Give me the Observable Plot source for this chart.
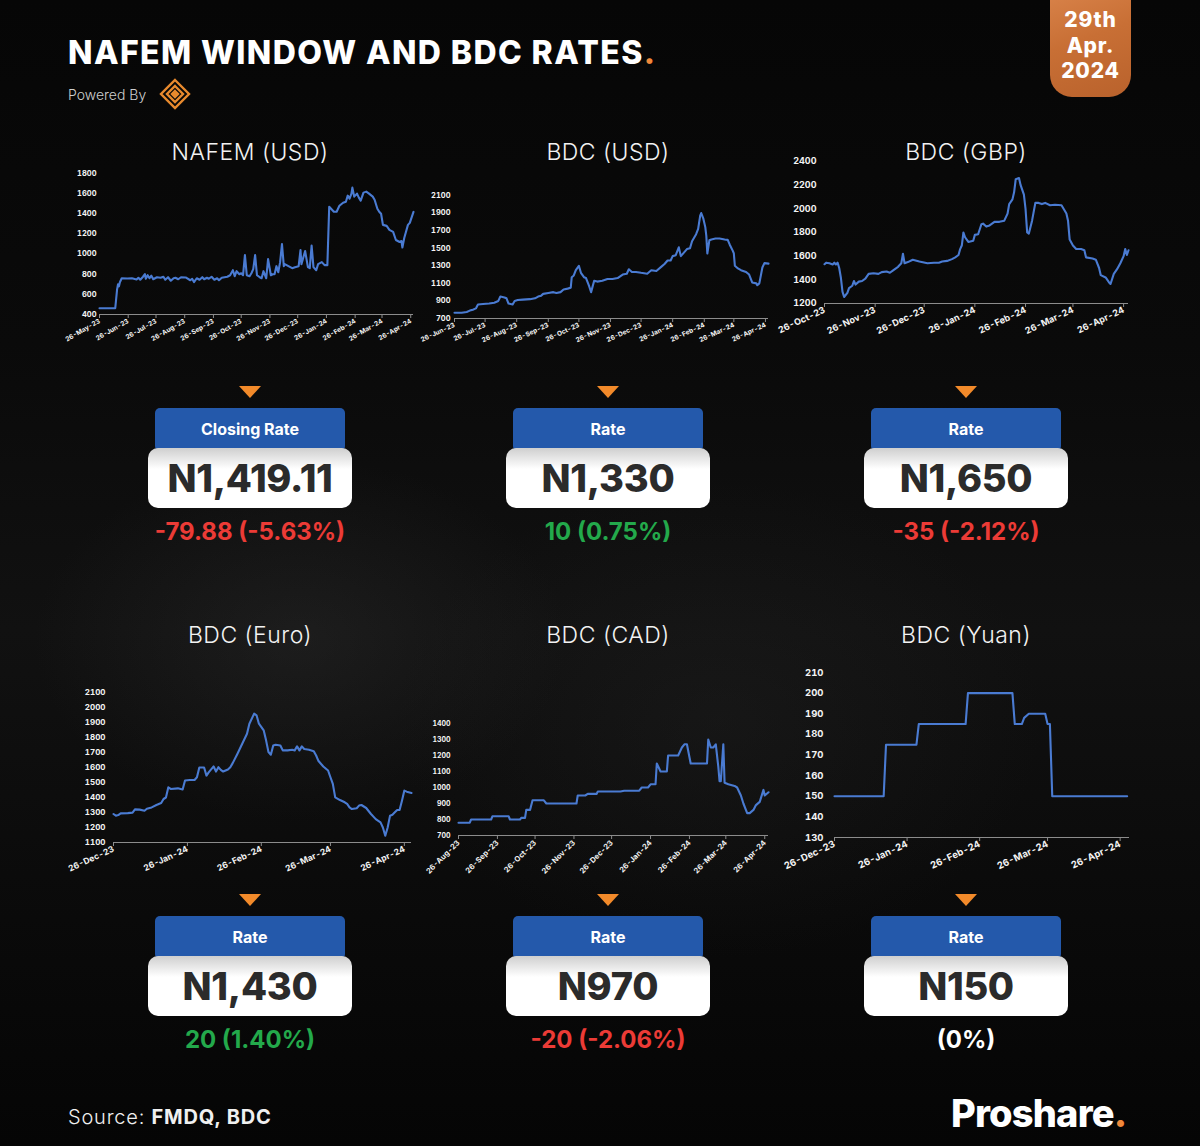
<!DOCTYPE html>
<html>
<head>
<meta charset="utf-8">
<script src="https://cdn.jsdelivr.net/npm/d3@7"></script>
<script src="https://cdn.jsdelivr.net/npm/@observablehq/plot@0.6"></script>
<style>
html,body{margin:0;padding:0;background:#060606;}
#page{position:relative;width:1200px;height:1146px;overflow:hidden;font-family:Inter,"Open Sans",sans-serif;
  background:
   radial-gradient(ellipse 380px 260px at 300px 640px, rgba(60,60,60,0.28), rgba(0,0,0,0) 70%),
   radial-gradient(ellipse 460px 340px at 720px 720px, rgba(45,45,45,0.25), rgba(0,0,0,0) 70%),
   linear-gradient(180deg,#060606 0%,#0a0a0a 30%,#111 55%,#0a0a0a 80%,#050505 100%);}
.abs{position:absolute;}
.title{position:absolute;color:#f2f2f2;font-weight:300;font-size:23px;white-space:nowrap;transform:translate(-50%,-50%);letter-spacing:0.5px;}
.tri{position:absolute;width:0;height:0;border-left:11px solid transparent;border-right:11px solid transparent;border-top:12px solid #f28a2a;transform:translateX(-50%);}
.blue{position:absolute;width:190px;height:42px;background:#2459ab;border-radius:5px 5px 4px 4px;transform:translateX(-50%);color:#fff;font-weight:700;font-size:16px;display:flex;align-items:center;justify-content:center;}
.white{position:absolute;width:204px;height:60px;border-radius:10px;transform:translateX(-50%);background:linear-gradient(180deg,#cfcfcf 0%,#ffffff 35%,#ffffff 100%);color:#2b2b2b;font-weight:800;font-size:38px;display:flex;align-items:center;justify-content:center;letter-spacing:-0.3px;}
.chg{position:absolute;font-weight:700;font-size:24px;white-space:nowrap;transform:translate(-50%,-50%);}
.badge{position:absolute;left:1050px;width:81px;text-align:center;color:#fff;font-weight:800;font-size:21px;line-height:24px;letter-spacing:0.8px;}
</style>
</head>
<body>
<div id="page"></div>
<script>
// ---------------- DATA ----------------
const nafemUsd = [["2023-05-26",462],["2023-06-12",462],["2023-06-14",650],["2023-06-15",700],["2023-06-16",680],["2023-06-17",720],["2023-06-19",760],["2023-06-25",758],["2023-06-30",760],["2023-07-05",748],["2023-07-07",765],["2023-07-09",745],["2023-07-12",775],["2023-07-14",800],["2023-07-15",755],["2023-07-17",790],["2023-07-19",760],["2023-07-21",785],["2023-07-23",750],["2023-07-27",770],["2023-07-31",765],["2023-08-03",775],["2023-08-05",745],["2023-08-08",770],["2023-08-11",735],["2023-08-14",760],["2023-08-16",765],["2023-08-19",750],["2023-08-22",770],["2023-08-27",768],["2023-09-01",740],["2023-09-03",755],["2023-09-05",722],["2023-09-08",760],["2023-09-11",745],["2023-09-14",770],["2023-09-16",750],["2023-09-19",765],["2023-09-21",755],["2023-09-24",775],["2023-09-27",745],["2023-09-30",760],["2023-10-02",740],["2023-10-05",765],["2023-10-08",770],["2023-10-11",775],["2023-10-14",790],["2023-10-17",840],["2023-10-19",780],["2023-10-21",830],["2023-10-24",800],["2023-10-26",810],["2023-10-28",790],["2023-10-30",990],["2023-11-01",790],["2023-11-04",780],["2023-11-06",810],["2023-11-08",850],["2023-11-10",990],["2023-11-12",790],["2023-11-15",770],["2023-11-17",760],["2023-11-19",830],["2023-11-22",760],["2023-11-24",950],["2023-11-27",790],["2023-11-29",800],["2023-12-01",800],["2023-12-03",880],["2023-12-05",820],["2023-12-07",920],["2023-12-09",1100],["2023-12-11",880],["2023-12-12",900],["2023-12-16",880],["2023-12-20",860],["2023-12-23",870],["2023-12-27",880],["2023-12-29",1040],["2023-12-30",900],["2024-01-03",1030],["2024-01-06",870],["2024-01-08",860],["2024-01-10",1085],["2024-01-12",870],["2024-01-15",840],["2024-01-17",900],["2024-01-21",920],["2024-01-24",890],["2024-01-27",890],["2024-01-29",1470],["2024-01-31",1450],["2024-02-03",1420],["2024-02-06",1420],["2024-02-09",1480],["2024-02-13",1510],["2024-02-16",1520],["2024-02-18",1580],["2024-02-20",1550],["2024-02-22",1600],["2024-02-23",1660],["2024-02-25",1570],["2024-02-28",1600],["2024-03-01",1560],["2024-03-03",1530],["2024-03-06",1610],["2024-03-09",1620],["2024-03-12",1600],["2024-03-16",1570],["2024-03-18",1540],["2024-03-21",1450],["2024-03-23",1420],["2024-03-25",1400],["2024-03-27",1290],["2024-03-31",1280],["2024-04-03",1240],["2024-04-07",1220],["2024-04-10",1140],["2024-04-14",1120],["2024-04-16",1130],["2024-04-17",1065],["2024-04-19",1160],["2024-04-23",1290],["2024-04-25",1310],["2024-04-29",1419]];

const bdcUsd = [["2023-06-26",765],["2023-07-03",765],["2023-07-08",775],["2023-07-11",790],["2023-07-14",800],["2023-07-17",815],["2023-07-19",860],["2023-07-24",865],["2023-07-30",870],["2023-08-04",880],["2023-08-08",900],["2023-08-10",950],["2023-08-14",940],["2023-08-16",930],["2023-08-18",870],["2023-08-22",860],["2023-08-24",900],["2023-08-27",910],["2023-09-01",915],["2023-09-08",920],["2023-09-13",930],["2023-09-16",950],["2023-09-19",960],["2023-09-21",980],["2023-09-26",990],["2023-10-01",1000],["2023-10-04",990],["2023-10-08",1000],["2023-10-11",1030],["2023-10-15",1040],["2023-10-18",1050],["2023-10-19",1170],["2023-10-21",1190],["2023-10-23",1250],["2023-10-26",1300],["2023-10-28",1220],["2023-10-31",1170],["2023-11-02",1160],["2023-11-05",1070],["2023-11-07",1000],["2023-11-10",1130],["2023-11-13",1120],["2023-11-18",1130],["2023-11-23",1150],["2023-11-28",1150],["2023-12-03",1160],["2023-12-08",1200],["2023-12-12",1210],["2023-12-14",1260],["2023-12-17",1230],["2023-12-21",1230],["2023-12-26",1220],["2024-01-01",1210],["2024-01-05",1250],["2024-01-10",1240],["2024-01-15",1290],["2024-01-18",1320],["2024-01-21",1360],["2024-01-24",1360],["2024-01-26",1410],["2024-01-29",1420],["2024-02-01",1510],["2024-02-03",1410],["2024-02-06",1450],["2024-02-09",1490],["2024-02-12",1500],["2024-02-14",1580],["2024-02-18",1660],["2024-02-20",1720],["2024-02-22",1870],["2024-02-23",1900],["2024-02-25",1840],["2024-02-27",1740],["2024-02-28",1640],["2024-02-29",1440],["2024-03-02",1590],["2024-03-04",1600],["2024-03-08",1610],["2024-03-12",1610],["2024-03-17",1600],["2024-03-20",1595],["2024-03-22",1540],["2024-03-25",1470],["2024-03-26",1440],["2024-03-27",1300],["2024-03-30",1270],["2024-04-02",1250],["2024-04-07",1230],["2024-04-10",1200],["2024-04-13",1110],["2024-04-17",1100],["2024-04-18",1080],["2024-04-20",1100],["2024-04-23",1280],["2024-04-25",1330],["2024-04-29",1325]];

const bdcGbp = [["2023-10-26",1532],["2023-10-27",1545],["2023-10-29",1540],["2023-10-31",1530],["2023-11-01",1545],["2023-11-02",1530],["2023-11-03",1545],["2023-11-04",1500],["2023-11-05",1420],["2023-11-06",1300],["2023-11-07",1255],["2023-11-09",1290],["2023-11-10",1330],["2023-11-12",1350],["2023-11-13",1390],["2023-11-14",1360],["2023-11-16",1385],["2023-11-18",1390],["2023-11-20",1410],["2023-11-22",1450],["2023-11-25",1455],["2023-11-28",1450],["2023-11-30",1465],["2023-12-03",1470],["2023-12-05",1460],["2023-12-07",1480],["2023-12-10",1510],["2023-12-12",1540],["2023-12-13",1620],["2023-12-14",1540],["2023-12-16",1550],["2023-12-19",1570],["2023-12-23",1555],["2023-12-28",1540],["2024-01-01",1545],["2024-01-04",1545],["2024-01-06",1555],["2024-01-09",1560],["2024-01-12",1575],["2024-01-14",1590],["2024-01-16",1610],["2024-01-17",1660],["2024-01-18",1690],["2024-01-19",1800],["2024-01-20",1760],["2024-01-22",1720],["2024-01-25",1730],["2024-01-26",1780],["2024-01-28",1785],["2024-01-30",1870],["2024-01-31",1875],["2024-02-02",1850],["2024-02-04",1860],["2024-02-07",1890],["2024-02-10",1890],["2024-02-13",1900],["2024-02-15",1960],["2024-02-16",2040],["2024-02-18",2080],["2024-02-19",2140],["2024-02-20",2250],["2024-02-22",2260],["2024-02-23",2200],["2024-02-25",2120],["2024-02-26",2000],["2024-02-27",1800],["2024-02-28",1790],["2024-03-01",1900],["2024-03-03",2050],["2024-03-05",2050],["2024-03-07",2040],["2024-03-09",2050],["2024-03-12",2030],["2024-03-15",2035],["2024-03-19",2030],["2024-03-22",1960],["2024-03-23",1900],["2024-03-24",1740],["2024-03-26",1690],["2024-03-28",1660],["2024-03-31",1660],["2024-04-02",1650],["2024-04-03",1590],["2024-04-07",1580],["2024-04-09",1570],["2024-04-11",1500],["2024-04-12",1440],["2024-04-15",1420],["2024-04-17",1380],["2024-04-18",1365],["2024-04-20",1450],["2024-04-22",1490],["2024-04-24",1540],["2024-04-26",1600],["2024-04-27",1660],["2024-04-28",1610],["2024-04-29",1650]];

const bdcEuro = [["2023-12-26",1290],["2023-12-27",1279],["2023-12-28",1283],["2023-12-29",1294],["2024-01-01",1296],["2024-01-03",1299],["2024-01-04",1321],["2024-01-06",1319],["2024-01-08",1312],["2024-01-09",1325],["2024-01-11",1334],["2024-01-13",1350],["2024-01-15",1363],["2024-01-16",1390],["2024-01-17",1400],["2024-01-18",1468],["2024-01-19",1457],["2024-01-22",1461],["2024-01-24",1453],["2024-01-25",1513],["2024-01-27",1517],["2024-01-29",1517],["2024-01-30",1535],["2024-01-31",1600],["2024-02-02",1600],["2024-02-03",1546],["2024-02-04",1569],["2024-02-06",1607],["2024-02-07",1573],["2024-02-08",1602],["2024-02-09",1584],["2024-02-10",1573],["2024-02-12",1587],["2024-02-13",1602],["2024-02-14",1629],["2024-02-16",1692],["2024-02-18",1758],["2024-02-20",1825],["2024-02-21",1892],["2024-02-23",1959],["2024-02-24",1948],["2024-02-25",1892],["2024-02-27",1848],["2024-02-28",1781],["2024-02-29",1703],["2024-03-01",1685],["2024-03-02",1747],["2024-03-03",1752],["2024-03-05",1747],["2024-03-06",1714],["2024-03-08",1714],["2024-03-10",1718],["2024-03-11",1714],["2024-03-12",1741],["2024-03-13",1714],["2024-03-14",1741],["2024-03-15",1723],["2024-03-17",1718],["2024-03-19",1709],["2024-03-20",1680],["2024-03-21",1643],["2024-03-23",1607],["2024-03-25",1580],["2024-03-26",1535],["2024-03-27",1491],["2024-03-28",1401],["2024-03-30",1383],["2024-04-01",1368],["2024-04-02",1357],["2024-04-03",1334],["2024-04-04",1323],["2024-04-06",1328],["2024-04-07",1346],["2024-04-08",1350],["2024-04-10",1330],["2024-04-12",1290],["2024-04-14",1256],["2024-04-16",1234],["2024-04-17",1200],["2024-04-18",1145],["2024-04-19",1200],["2024-04-20",1279],["2024-04-21",1285],["2024-04-22",1301],["2024-04-23",1317],["2024-04-24",1317],["2024-04-25",1379],["2024-04-26",1446],["2024-04-27",1439],["2024-04-29",1430]];

const bdcCad = [["2023-08-26",780],["2023-09-04",780],["2023-09-05",800],["2023-09-21",800],["2023-09-22",820],["2023-10-05",820],["2023-10-06",800],["2023-10-14",800],["2023-10-15",810],["2023-10-18",810],["2023-10-19",860],["2023-10-22",860],["2023-10-24",920],["2023-11-02",920],["2023-11-04",900],["2023-11-28",900],["2023-11-29",950],["2023-12-05",950],["2023-12-07",960],["2023-12-14",960],["2023-12-15",975],["2024-01-02",975],["2024-01-05",980],["2024-01-17",980],["2024-01-19",1000],["2024-01-24",1000],["2024-01-26",1020],["2024-01-30",1020],["2024-01-31",1150],["2024-02-03",1100],["2024-02-08",1100],["2024-02-09",1200],["2024-02-17",1200],["2024-02-20",1250],["2024-02-22",1270],["2024-02-24",1270],["2024-02-27",1150],["2024-03-11",1150],["2024-03-12",1300],["2024-03-14",1250],["2024-03-16",1250],["2024-03-18",1270],["2024-03-20",1130],["2024-03-21",1040],["2024-03-22",1040],["2024-03-24",1270],["2024-03-25",1030],["2024-03-28",1020],["2024-04-02",1010],["2024-04-04",1000],["2024-04-07",950],["2024-04-09",900],["2024-04-12",840],["2024-04-14",840],["2024-04-17",860],["2024-04-19",890],["2024-04-22",910],["2024-04-25",985],["2024-04-26",950],["2024-04-29",970]];

const bdcYuan = [["2023-12-26",150],["2024-01-16",150],["2024-01-17",175],["2024-01-30",175],["2024-01-31",185],["2024-02-20",185],["2024-02-21",200],["2024-03-11",200],["2024-03-12",185],["2024-03-15",185],["2024-03-16",188],["2024-03-18",190],["2024-03-25",190],["2024-03-26",185],["2024-03-27",185],["2024-03-28",150],["2024-04-29",150]];

// tick labels (26th of each month) and value ticks
const nafemXTicks = ["2023-05-26","2023-06-26","2023-07-26","2023-08-26","2023-09-26","2023-10-26","2023-11-26","2023-12-26","2024-01-26","2024-02-26","2024-03-26","2024-04-26"];
const usdXTicks = ["2023-06-26","2023-07-26","2023-08-26","2023-09-26","2023-10-26","2023-11-26","2023-12-26","2024-01-26","2024-02-26","2024-03-26","2024-04-26"];
const gbpXTicks = ["2023-10-26","2023-11-26","2023-12-26","2024-01-26","2024-02-26","2024-03-26","2024-04-26"];
const euroXTicks = ["2023-12-26","2024-01-26","2024-02-26","2024-03-26","2024-04-26"];
const cadXTicks = ["2023-08-26","2023-09-26","2023-10-26","2023-11-26","2023-12-26","2024-01-26","2024-02-26","2024-03-26","2024-04-26"];
const yuanXTicks = ["2023-12-26","2024-01-26","2024-02-26","2024-03-26","2024-04-26"];

const nafemYTicks = [400,600,800,1000,1200,1400,1600,1800];
const usdYTicks = [700,900,1100,1300,1500,1700,1900,2100];
const gbpYTicks = [1200,1400,1600,1800,2000,2200,2400];
const euroYTicks = [1100,1200,1300,1400,1500,1600,1700,1800,1900,2000,2100];
const cadYTicks = [700,800,900,1000,1100,1200,1300,1400];
const yuanYTicks = [130,140,150,160,170,180,190,200,210];

const xDomains = [["2023-05-26","2024-04-29"],["2023-06-26","2024-04-29"],["2023-10-26","2024-04-29"],["2023-12-26","2024-04-29"],["2023-08-26","2024-04-29"],["2023-12-26","2024-04-30"]];

const chartTitles = ["NAFEM (USD)","BDC (USD)","BDC (GBP)","BDC (Euro)","BDC (CAD)","BDC (Yuan)"];
const cardLabels = ["Closing Rate","Rate","Rate","Rate","Rate","Rate"];
const closingRates = ["N1,419.11","N1,330","N1,650","N1,430","N970","N150"];
const changes = ["-79.88 (-5.63%)","10 (0.75%)","-35 (-2.12%)","20 (1.40%)","-20 (-2.06%)","(0%)"];
const changeDir = ["down","up","down","up","down","flat"];
const badgeLines = ["29th","Apr.","2024"];

const seriesList = [nafemUsd,bdcUsd,bdcGbp,bdcEuro,bdcCad,bdcYuan];
const xTickList = [nafemXTicks,usdXTicks,gbpXTicks,euroXTicks,cadXTicks,yuanXTicks];
const yTickList = [nafemYTicks,usdYTicks,gbpYTicks,euroYTicks,cadYTicks,yuanYTicks];

// ---------------- LAYOUT ----------------
const plotBoxes = [
  {L:99, R:413, T:173, B:314, fx:6.5, fy:7.5, rot:-30, pad:3},
  {L:454,R:768, T:195, B:318, fx:6.5, fy:7.5, rot:-25, pad:4},
  {L:824,R:1128,T:161, B:303, fx:9,   fy:9,   rot:-25, pad:8},
  {L:113,R:411, T:692, B:842, fx:8.5, fy:8,   rot:-25, pad:8},
  {L:458,R:768, T:723, B:835, fx:7.5, fy:7,   rot:-45, pad:8},
  {L:834,R:1129,T:672, B:837, fx:9.5, fy:9.5, rot:-25, pad:11}
];
const colCenters = [250,608,966,250,608,966];
const titleYs = [152,152,152,635,635,635];
const cardTops = [386,386,386,894,894,894];

const page = document.getElementById("page");
const parse = s => new Date(s + "T00:00:00Z");
const fmt = d3.utcFormat("%d-%b-%y");

function el(tag, cls, css, html) {
  const e = document.createElement(tag);
  if (cls) e.className = cls;
  if (css) Object.assign(e.style, css);
  if (html != null) e.innerHTML = html;
  page.appendChild(e);
  return e;
}

// header
el("div","abs",{left:"68px",top:"33px",color:"#fff",fontWeight:"800",fontSize:"32px",letterSpacing:"1.4px",whiteSpace:"nowrap"},
  'NAFEM WINDOW AND BDC RATES<span style="color:#f0883a">.</span>');
el("div","abs",{left:"68px",top:"86px",color:"#cfcfcf",fontWeight:"300",fontSize:"14px"},"Powered By");
el("div","abs",{left:"158px",top:"78px"},
  '<svg width="34" height="32" viewBox="0 0 34 32"><g fill="none" stroke="#e88a2e" stroke-width="2.4">' +
  '<path d="M17 2 L31 16 L17 30 L3 16 Z"/><path d="M17 8 L25 16 L17 24 L9 16 Z"/><path d="M17 13 L20 16 L17 19 L14 16 Z" fill="#e88a2e"/></g></svg>');

// date badge
el("div","abs",{left:"1050px",top:"-10px",width:"81px",height:"107px",borderRadius:"0 0 22px 22px",
  background:"linear-gradient(160deg,#d9834a 0%,#c86f35 45%,#b9622c 100%)"});
badgeLines.forEach((s, k) => el("div","badge",{top:(8 + k * 25.5) + "px"}, s));

// panels
for (let i = 0; i < 6; i++) {
  const b = plotBoxes[i];
  const yT = yTickList[i];
  const mL = 44, mR = 14, mT = 10, mB = 60;
  const data = seriesList[i].map(([d, v]) => ({date: parse(d), value: v}));
  const svg = Plot.plot({
    width: (b.R - b.L) + mL + mR,
    height: (b.B - b.T) + mT + mB,
    marginLeft: mL, marginRight: mR, marginTop: mT, marginBottom: mB,
    style: {background: "transparent", color: "#fff", fontFamily: "Inter, sans-serif", fontWeight: 700, overflow: "visible"},
    x: {type: "utc", domain: xDomains[i].map(parse)},
    y: {domain: [yT[0], yT[yT.length - 1]]},
    marks: [
      Plot.ruleY([yT[0]], {stroke: "#8c8c8c", strokeWidth: 1.2}),
      Plot.axisX({ticks: xTickList[i].map(parse), tickFormat: fmt, tickRotate: b.rot, tickSize: 4, tickPadding: 2,
        stroke: "#8c8c8c", fill: "#f4f4f4", fontSize: b.fx, fontWeight: 700, label: null}),
      Plot.axisY({ticks: yT, tickFormat: d => String(d), tickSize: 0, tickPadding: b.pad, fill: "#f4f4f4", fontSize: b.fy, fontWeight: 700, label: null}),
      Plot.line(data, {x: "date", y: "value", stroke: "#4a7bd2", strokeWidth: 2.1, strokeLinejoin: "round"})
    ]
  });
  svg.style.position = "absolute";
  svg.style.left = (b.L - mL) + "px";
  svg.style.top = (b.T - mT) + "px";
  page.appendChild(svg);

  const cx = colCenters[i];
  el("div","title",{left: cx + "px", top: titleYs[i] + "px"}, chartTitles[i]);
  const t = cardTops[i];
  el("div","tri",{left: cx + "px", top: t + "px"});
  el("div","blue",{left: cx + "px", top: (t + 22) + "px"}, cardLabels[i]);
  el("div","white",{left: cx + "px", top: (t + 62) + "px"}, closingRates[i]);
  const col = changeDir[i] === "down" ? "#ec3b36" : changeDir[i] === "up" ? "#23a94b" : "#ffffff";
  el("div","chg",{left: cx + "px", top: (t + 145) + "px", color: col}, changes[i]);
}

// footer
el("div","abs",{left:"68px",top:"1105px",color:"#f0f0f0",fontSize:"20px",fontWeight:"300",letterSpacing:"0.8px",whiteSpace:"nowrap"},
  'Source: <b style="font-weight:700">FMDQ, BDC</b>');
el("div","abs",{left:"951px",top:"1090px",color:"#fff",fontSize:"38px",fontWeight:"800",letterSpacing:"-0.8px",whiteSpace:"nowrap"},
  'Proshare<span style="color:#f0883a">.</span>');
</script>
</body>
</html>
